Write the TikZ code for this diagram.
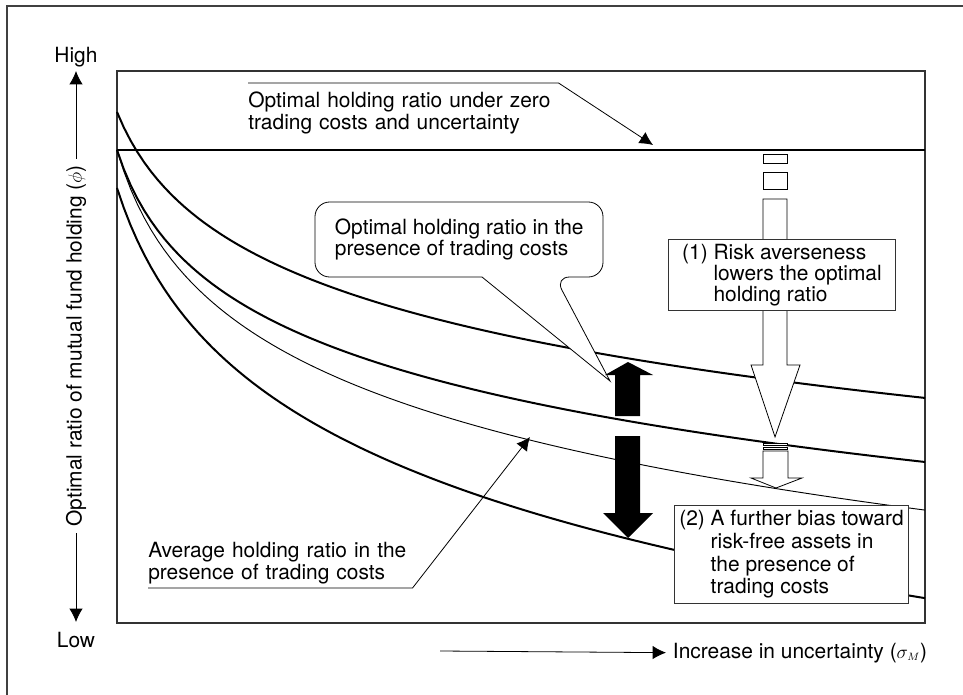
\documentclass[tikz,border=0pt]{standalone}
\usepackage{fontspec}
\setmainfont{TeX Gyre Heros}
\usetikzlibrary{arrows.meta, positioning}
\tikzset{
  outer/.style = {draw=black!75, line width=0.8pt},
  frame/.style = {draw=black!80, line width=1.2pt},
  curve/.style = {line width=1.5pt},
  thincurve/.style = {line width=0.7pt},
  thinline/.style = {line width=0.6pt},
  lbl/.style = {font=\fontsize{15.7}{16.5}\selectfont, inner sep=0pt, align=left},
  infobox/.style = {draw=black!80, fill=white, line width=0.7pt, inner sep=0pt, align=left},
  tip/.style = {-{Latex[length=10pt, width=10pt]}},
  hollow/.style = {draw, fill=white, line width=0.6pt}
}

\begin{document}
\begin{tikzpicture}[x=0.75pt, y=-0.75pt]
  \useasboundingbox (0,0) rectangle (963,695);

  % Outer frame
  \draw[outer] (7,695) -- (7,6) -- (963,6);

  % Plot area
  \draw[frame] (117,71) rectangle (925,623);

  % Holding ratio under zero trading costs
  \draw[curve] (117,150) -- (925,150);

  % Curves
  \draw[curve] plot[domain=117:925, samples=120] (\x, {112 + 91.4*ln(1 + (\x-117)/37)});
  \draw[curve] plot[domain=117:925, samples=120] (\x, {150 + 93.7*ln(1 + (\x-117)/30)});
  \draw[thincurve] plot[domain=117:925, samples=120] (\x, {150 + 110.2*ln(1 + (\x-117)/32)});
  \draw[curve] plot[domain=117:925, samples=120] (\x, {188 + 138.4*ln(1 + (\x-117)/44)});

  % Vertical axis
  \node[lbl] (high) at (76,57) {High};
  \node[lbl] (low) at (76,640) {Low};
  \node[lbl, rotate=90, inner sep=5pt] (ylab) at (76,346) {Optimal ratio of mutual fund holding ($\phi$)};
  \coordinate (ytop) at (76,71);
  \coordinate (ybot) at (76,622);
  \draw[thinline, tip] (ylab.east) -- (ytop);
  \draw[thinline, tip] (ylab.west) -- (ybot);

  % Horizontal axis
  \node[lbl, anchor=base west, inner xsep=5pt] (xlab) at (666,658) {Increase in uncertainty ($\sigma_{\scriptscriptstyle M}$)};
  \coordinate (xstart) at (440,651);
  \draw[thinline, tip] (xstart) -- (xlab.west);

  % Callout: zero trading costs
  \node[lbl, text width=232.5pt, inner ysep=6.4pt, anchor=north west] (zerolab) at (248,83) {Optimal holding ratio under zero\\trading costs and uncertainty};
  \coordinate (zerotip) at (653,145);
  \draw[thinline, tip] (zerolab.north west) -- (zerolab.north east) -- (zerotip);

  % Speech bubble: optimal ratio with trading costs
  \coordinate (bubNW) at (315,202);
  \coordinate (bubSE) at (603,277);
  \coordinate (bubA) at (482,277);
  \coordinate (bubB) at (555,277);
  \coordinate (bubtip) at (610,381);
  \draw[thinline, fill=white] (bubA) [rounded corners=11pt] -- (bubNW |- bubSE) -- (bubNW) -- (bubSE |- bubNW) -- (bubSE) -- (bubB) [sharp corners] -- (bubtip) -- cycle;
  \node[lbl, font=\fontsize{15.7}{15.75}\selectfont, minimum width=216pt, minimum height=56.25pt, anchor=north west] (optlab) at (bubNW) {Optimal holding ratio in the\\presence of trading costs};

  % Callout: average ratio
  \node[lbl, text width=198pt, inner ysep=2.5pt, anchor=south west] (avglab) at (148,588) {Average holding ratio in the\\presence of trading costs};
  \coordinate (avgtip) at (530,437);
  \draw[thinline, tip] (avglab.south west) -- (avglab.south east) -- (avgtip);

  % Black arrows
  \fill (615,416) -- (615,375) -- (605,375) -- (628,362) -- (653,375) -- (640,375) -- (640,416) -- cycle;
  \fill (615,436) -- (615,513) -- (603,513) -- (628,538) -- (653,513) -- (640,513) -- (640,436) -- cycle;

  % White arrow (1)
  \draw[hollow] (763,154) rectangle (787,163);
  \draw[hollow] (763,172) rectangle (787,189);
  \draw[hollow] (763,199) -- (763,365) -- (751,365) -- (775,437) -- (800,365) -- (787,365) -- (787,199) -- cycle;

  % White arrow (2)
  \draw[hollow] (763,443) rectangle (787,445.5);
  \draw[hollow] (763,447) rectangle (787,449.5);
  \draw[hollow] (763,451) -- (763,478) -- (751,478) -- (776,488) -- (802,478) -- (788,478) -- (788,451) -- cycle;

  % Boxes
  \node[infobox, font=\fontsize{15.7}{15.75}\selectfont, minimum width=170.25pt, minimum height=53.25pt, anchor=north west] (riskbox) at (668,239) {(1) Risk averseness\\\phantom{(1)} lowers the optimal\\\phantom{(1)} holding ratio};
  \node[infobox, font=\fontsize{15.7}{17}\selectfont, minimum width=175.5pt, minimum height=73.5pt, anchor=north west] (biasbox) at (674,505) {(2) A further bias toward\\\phantom{(2)} risk-free assets in\\\phantom{(2)} the presence of\\\phantom{(2)} trading costs};

\end{tikzpicture}
\end{document}
